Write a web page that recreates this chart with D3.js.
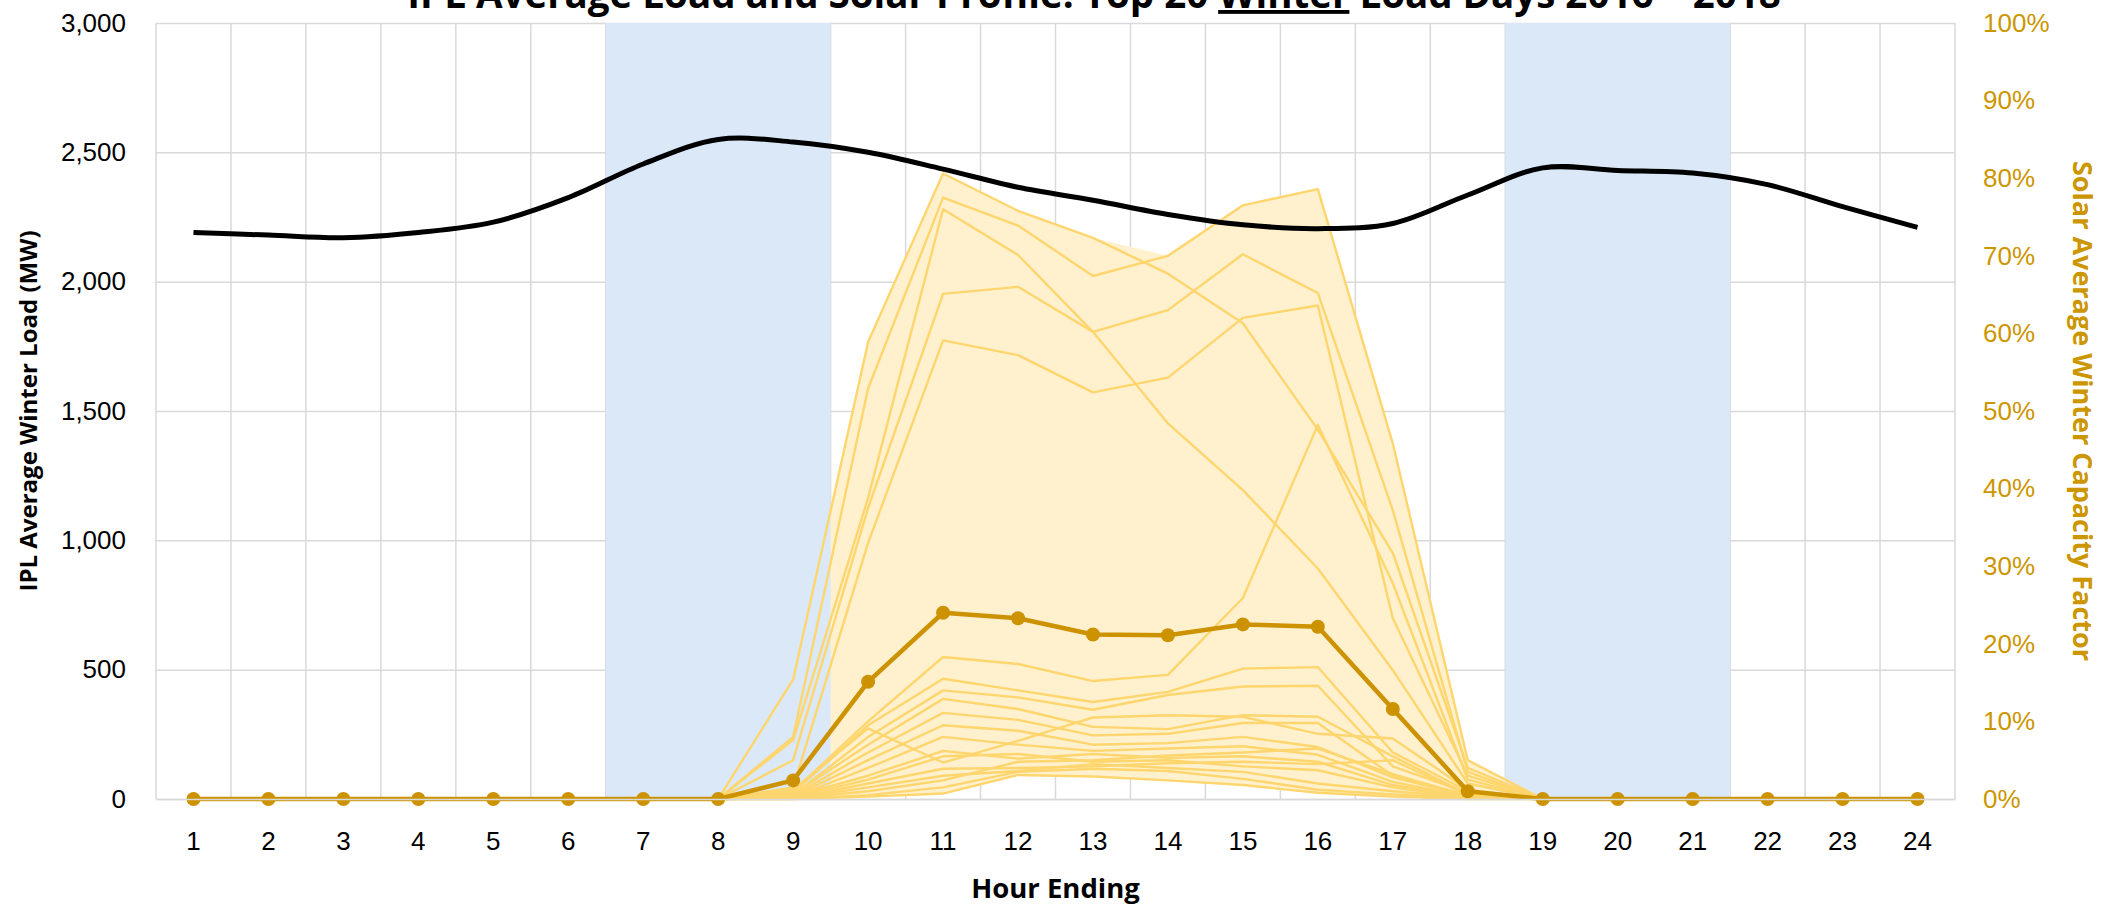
<!DOCTYPE html>
<html>
<head>
<meta charset="utf-8">
<script src="https://cdn.jsdelivr.net/npm/d3@7"></script>
<style>
  body { margin: 0; background: #fff; }
  svg { display: block; font-family: "Open Sans", "Noto Sans", sans-serif; }
</style>
</head>
<body>
<svg id="chart" width="2109" height="907"></svg>
<script>
// hour ending categories
const hours = [1, 2, 3, 4, 5, 6, 7, 8, 9, 10, 11, 12, 13, 14, 15, 16, 17, 18, 19, 20, 21, 22, 23, 24];

// IPL average winter load (MW)
const loadMW = [2190, 2180, 2170, 2190, 2230, 2325, 2455, 2550, 2540, 2500, 2435, 2365,
                2315, 2260, 2220, 2205, 2225, 2335, 2440, 2430, 2420, 2375, 2290, 2210];

// solar average winter capacity factor
const solarAvg = [0, 0, 0, 0, 0, 0, 0, 0, 0.024, 0.151, 0.240, 0.233,
                  0.212, 0.211, 0.225, 0.222, 0.116, 0.010, 0, 0, 0, 0, 0, 0];

// capacity factor for each of the top 20 winter load days
const solarDays = [
  [0, 0, 0, 0, 0, 0, 0, 0, 0.154, 0.589, 0.806, 0.758, 0.723, 0.677, 0.613, 0.476, 0.317, 0.040, 0, 0, 0, 0, 0, 0],
  [0, 0, 0, 0, 0, 0, 0, 0, 0.080, 0.529, 0.775, 0.739, 0.674, 0.700, 0.765, 0.786, 0.458, 0.050, 0, 0, 0, 0, 0, 0],
  [0, 0, 0, 0, 0, 0, 0, 0, 0.076, 0.388, 0.760, 0.701, 0.602, 0.484, 0.398, 0.297, 0.166, 0.020, 0, 0, 0, 0, 0, 0],
  [0, 0, 0, 0, 0, 0, 0, 0, 0.050, 0.375, 0.651, 0.660, 0.602, 0.630, 0.702, 0.652, 0.372, 0.035, 0, 0, 0, 0, 0, 0],
  [0, 0, 0, 0, 0, 0, 0, 0, 0.015, 0.330, 0.591, 0.572, 0.524, 0.543, 0.620, 0.636, 0.233, 0.030, 0, 0, 0, 0, 0, 0],
  [0, 0, 0, 0, 0, 0, 0, 0, 0.010, 0.100, 0.183, 0.174, 0.152, 0.160, 0.259, 0.482, 0.278, 0.025, 0, 0, 0, 0, 0, 0],
  [0, 0, 0, 0, 0, 0, 0, 0, 0.008, 0.095, 0.155, 0.140, 0.125, 0.138, 0.168, 0.170, 0.060, 0.010, 0, 0, 0, 0, 0, 0],
  [0, 0, 0, 0, 0, 0, 0, 0, 0.005, 0.080, 0.140, 0.131, 0.115, 0.134, 0.145, 0.146, 0.042, 0.008, 0, 0, 0, 0, 0, 0],
  [0, 0, 0, 0, 0, 0, 0, 0, 0.006, 0.070, 0.129, 0.116, 0.093, 0.090, 0.108, 0.106, 0.055, 0.006, 0, 0, 0, 0, 0, 0],
  [0, 0, 0, 0, 0, 0, 0, 0, 0.012, 0.091, 0.047, 0.075, 0.105, 0.108, 0.106, 0.084, 0.078, 0.012, 0, 0, 0, 0, 0, 0],
  [0, 0, 0, 0, 0, 0, 0, 0, 0.004, 0.060, 0.111, 0.102, 0.082, 0.084, 0.098, 0.098, 0.030, 0.005, 0, 0, 0, 0, 0, 0],
  [0, 0, 0, 0, 0, 0, 0, 0, 0.003, 0.050, 0.095, 0.088, 0.070, 0.072, 0.080, 0.067, 0.028, 0.004, 0, 0, 0, 0, 0, 0],
  [0, 0, 0, 0, 0, 0, 0, 0, 0.002, 0.040, 0.080, 0.070, 0.062, 0.065, 0.068, 0.057, 0.022, 0.003, 0, 0, 0, 0, 0, 0],
  [0, 0, 0, 0, 0, 0, 0, 0, 0.003, 0.030, 0.062, 0.052, 0.058, 0.053, 0.055, 0.048, 0.018, 0.003, 0, 0, 0, 0, 0, 0],
  [0, 0, 0, 0, 0, 0, 0, 0, 0.002, 0.025, 0.055, 0.058, 0.048, 0.050, 0.042, 0.037, 0.015, 0.002, 0, 0, 0, 0, 0, 0],
  [0, 0, 0, 0, 0, 0, 0, 0, 0.001, 0.020, 0.039, 0.040, 0.042, 0.046, 0.048, 0.045, 0.050, 0.005, 0, 0, 0, 0, 0, 0],
  [0, 0, 0, 0, 0, 0, 0, 0, 0.001, 0.015, 0.030, 0.036, 0.045, 0.040, 0.035, 0.020, 0.010, 0.002, 0, 0, 0, 0, 0, 0],
  [0, 0, 0, 0, 0, 0, 0, 0, 0.001, 0.010, 0.024, 0.048, 0.050, 0.056, 0.060, 0.065, 0.032, 0.004, 0, 0, 0, 0, 0, 0],
  [0, 0, 0, 0, 0, 0, 0, 0, 0, 0.005, 0.015, 0.035, 0.039, 0.036, 0.026, 0.012, 0.006, 0.001, 0, 0, 0, 0, 0, 0],
  [0, 0, 0, 0, 0, 0, 0, 0, 0, 0.003, 0.007, 0.031, 0.029, 0.024, 0.018, 0.008, 0.003, 0, 0, 0, 0, 0, 0, 0]
];

// shaded peak periods (first and last hour of each)
const peakBands = [[7, 9], [19, 21]];

const loadTicks = [0, 500, 1000, 1500, 2000, 2500, 3000];
const cfTicks = [0, 0.1, 0.2, 0.3, 0.4, 0.5, 0.6, 0.7, 0.8, 0.9, 1];

const plot = { left: 156, right: 1955, top: 23, bottom: 799 };
const svg = d3.select('#chart');

const x = d3.scaleBand().domain(hours).range([plot.left, plot.right]).padding(0);
const xc = (h) => x(h) + x.bandwidth() / 2;
const yLoad = d3.scaleLinear().domain([0, 3000]).range([plot.bottom, plot.top]);
const yCF = d3.scaleLinear().domain([0, 1]).range([plot.bottom, plot.top]);

// gridlines
const grid = svg.append('g');
grid.append('g')
    .attr('transform', `translate(${plot.left},0)`)
    .call(d3.axisLeft(yLoad).tickValues(loadTicks).tickSize(-(plot.right - plot.left)).tickFormat(''))
    .call(g => g.select('.domain').remove())
    .call(g => g.selectAll('line').attr('stroke', '#d9d9d9').attr('stroke-width', 1.5));
grid.selectAll('.vgrid')
    .data(hours.map(h => x(h)).concat([plot.right]))
    .join('line')
    .attr('x1', d => d).attr('x2', d => d)
    .attr('y1', plot.top).attr('y2', plot.bottom)
    .attr('stroke', '#d9d9d9').attr('stroke-width', 1.5);

// min-max band of the 20 days
const band = d3.area()
    .x((d, i) => xc(hours[i]))
    .y0((d, i) => yCF(d3.min(solarDays, s => s[i])))
    .y1((d, i) => yCF(d3.max(solarDays, s => s[i])));
svg.append('path')
    .datum(hours)
    .attr('d', band)
    .attr('fill', '#fff0ce');

// peak shading
svg.selectAll('.peak')
    .data(peakBands)
    .join('rect')
    .attr('x', d => x(d[0]))
    .attr('width', d => x(d[1]) + x.bandwidth() - x(d[0]))
    .attr('y', plot.top)
    .attr('height', plot.bottom - plot.top)
    .attr('fill', '#dae8f8');

// individual days
const cfLine = d3.line().x((d, i) => xc(hours[i])).y(d => yCF(d));
svg.append('g')
    .selectAll('path')
    .data(solarDays)
    .join('path')
    .attr('d', cfLine)
    .attr('fill', 'none')
    .attr('stroke', '#ffd66e')
    .attr('stroke-width', 2.4)
    .attr('stroke-linejoin', 'round');

// load line
const loadLine = d3.line()
    .x((d, i) => xc(hours[i]))
    .y(d => yLoad(d))
    .curve(d3.curveCatmullRom);
svg.append('path')
    .datum(loadMW)
    .attr('d', loadLine)
    .attr('fill', 'none')
    .attr('stroke', '#000')
    .attr('stroke-width', 5);

// solar average
svg.append('path')
    .datum(solarAvg)
    .attr('d', cfLine)
    .attr('fill', 'none')
    .attr('stroke', '#cc9200')
    .attr('stroke-width', 4.5)
    .attr('stroke-linejoin', 'round');
svg.append('g')
    .selectAll('circle')
    .data(solarAvg)
    .join('circle')
    .attr('cx', (d, i) => xc(hours[i]))
    .attr('cy', d => yCF(d))
    .attr('r', 7)
    .attr('fill', '#cc9200');

// axes
svg.append('g')
    .attr('transform', `translate(${plot.left},0)`)
    .call(d3.axisLeft(yLoad).tickValues(loadTicks).tickFormat(d3.format(',')).tickSize(0).tickPadding(30))
    .call(g => g.select('.domain').remove())
    .call(g => g.selectAll('text').attr('font-size', 26).attr('fill', '#000').attr('font-family', null));

svg.append('g')
    .attr('transform', `translate(${plot.right},0)`)
    .call(d3.axisRight(yCF).tickValues(cfTicks).tickFormat(d3.format('.0%')).tickSize(0).tickPadding(28))
    .call(g => g.select('.domain').remove())
    .call(g => g.selectAll('text').attr('font-size', 26).attr('fill', '#cc9600').attr('font-family', null));

svg.append('g')
    .attr('transform', `translate(0,${plot.bottom})`)
    .call(d3.axisBottom(x).tickSize(0))
    .call(g => g.select('.domain').attr('stroke', '#d9d9d9').attr('stroke-width', 1.5))
    .call(g => g.selectAll('text').attr('font-size', 26).attr('fill', '#000').attr('font-family', null)
        .attr('dy', null).attr('y', 51));

// titles
const title = svg.append('text')
    .attr('x', 1094).attr('y', 8)
    .attr('text-anchor', 'middle')
    .attr('font-size', 38.5).attr('font-weight', 700);
title.append('tspan').text('IPL Average Load and Solar Profile: Top 20 ');
title.append('tspan').attr('text-decoration', 'underline').text('Winter');
title.append('tspan').text(' Load Days 2016 \u2013 2018');

svg.append('text')
    .attr('transform', `translate(37,${(plot.top + plot.bottom) / 2}) rotate(-90)`)
    .attr('text-anchor', 'middle')
    .attr('font-size', 24).attr('font-weight', 700)
    .text('IPL Average Winter Load (MW)');

svg.append('text')
    .attr('transform', `translate(2073,${(plot.top + plot.bottom) / 2}) rotate(90)`)
    .attr('text-anchor', 'middle')
    .attr('font-size', 27).attr('font-weight', 700)
    .attr('fill', '#cc9600')
    .text('Solar Average Winter Capacity Factor');

svg.append('text')
    .attr('x', (plot.left + plot.right) / 2).attr('y', 898)
    .attr('text-anchor', 'middle')
    .attr('font-size', 27.5).attr('font-weight', 700)
    .text('Hour Ending');
</script>
</body>
</html>
